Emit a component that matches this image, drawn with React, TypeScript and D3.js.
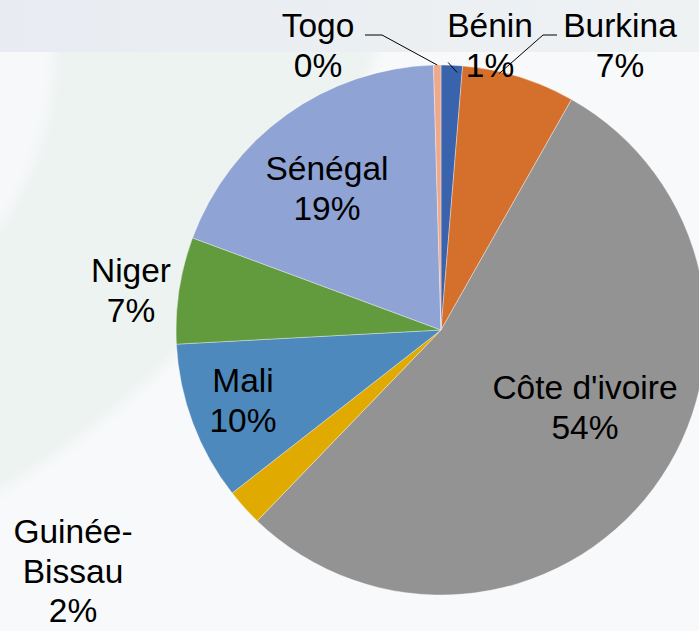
import React from "react";
import * as d3 from "d3";

const countries = ["Bénin", "Burkina", "Côte d'ivoire", "Guinée-Bissau", "Mali", "Niger", "Sénégal", "Togo"];
const shares = [1.3, 6.9, 54.0, 2.25, 9.7, 6.5, 18.9, 0.45];
const pctLabels = ["1%", "7%", "54%", "2%", "10%", "7%", "19%", "0%"];
const nameLines = [["Bénin"], ["Burkina"], ["Côte d'ivoire"], ["Guinée-", "Bissau"], ["Mali"], ["Niger"], ["Sénégal"], ["Togo"]];
const colors = ["#3A63AE", "#D4702B", "#939393", "#E1AA00", "#4E89BD", "#629A3E", "#8FA4D4", "#F0A88B"];

// label layout (center x, first baseline y)
const labelPos: [number, number][] = [
  [490, 37], [620, 37], [585, 399], [73, 543], [243, 392], [131, 282], [327, 180], [318, 37],
];

const W = 699, H = 631;
const cx = 441, cy = 330, R = 265;
const FS = 33.5, LH = 39.5;

export default function App() {
  const pie = d3.pie<number>().sort(null).value((d) => d);
  const arcs = pie(shares);
  const arcGen = d3.arc<d3.PieArcDatum<number>>().innerRadius(0).outerRadius(R);
  const pt = (a: number, r: number) => [cx + r * Math.sin(a), cy - r * Math.cos(a)];

  const togoTip = pt((arcs[7].startAngle + arcs[7].endAngle) / 2, R);
  const beninTip = pt((arcs[0].startAngle + arcs[0].endAngle) / 2 + 0.02, R + 1);
  const burkTip = pt(arcs[1].startAngle + 0.14, R);

  return (
    <div style={{ position: "absolute", left: 0, top: 0 }}>
      <svg width={W} height={H} style={{ display: "block" }}>
        <defs>
          <linearGradient id="bgTop" x1="0" x2="1" y1="0" y2="0">
            <stop offset="0" stopColor="#e8ecf2" />
            <stop offset="1" stopColor="#eef2f3" />
          </linearGradient>
          <filter id="soft" x="-20%" y="-20%" width="140%" height="140%">
            <feGaussianBlur stdDeviation="6" />
          </filter>
        </defs>
        <rect x={0} y={0} width={W} height={H} fill="#f8f9fa" />
        <g filter="url(#soft)">
          <circle cx={-460} cy={-287} r={903} fill="#edf3f1" />
          <circle cx={-260} cy={50} r={315} fill="#f6f8f9" />
        </g>
        <rect x={0} y={0} width={W} height={52} fill="url(#bgTop)" />
        <g transform={`translate(${cx},${cy})`}>
          {arcs.map((a, i) => (
            <path key={countries[i]} d={arcGen(a) || ""} fill={colors[i]} stroke="#ffffff" strokeWidth={0.6} strokeOpacity={0.6} />
          ))}
        </g>
        <g fill="none" stroke="#000" strokeWidth={1}>
          <polyline points={`365,35 382,35 ${togoTip[0]},${togoTip[1]}`} />
          <polyline points={`${beninTip[0] - 9},${beninTip[1] - 2} ${beninTip[0]},${beninTip[1] + 8}`} />
          <polyline points={`557,35 543,35 ${burkTip[0]},${burkTip[1] + 2}`} />
        </g>
        <g fontFamily="'Liberation Sans', Arial, sans-serif" fontSize={FS} fill="#000" textAnchor="middle">
          {countries.map((c, i) => {
            const lines = [...nameLines[i], pctLabels[i]];
            const [x, y] = labelPos[i];
            return (
              <text key={c} x={x} y={y}>
                {lines.map((l, j) => (
                  <tspan key={j} x={x} y={y + j * LH}>{l}</tspan>
                ))}
              </text>
            );
          })}
        </g>
      </svg>
    </div>
  );
}
